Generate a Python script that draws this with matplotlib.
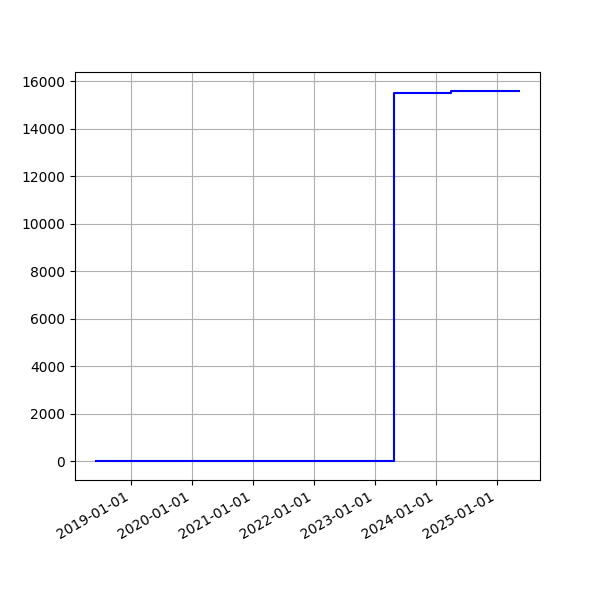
import matplotlib
matplotlib.use("Agg")
import matplotlib.pyplot as plt
import matplotlib.dates as mdates
import pandas as pd

# step data
dates = pd.to_datetime(["2018-06-06", "2023-04-25", "2024-03-31", "2025-05-12"])
values = [0, 15480, 15600, 15600]

fig, ax = plt.subplots(figsize=(6, 6), dpi=100)
ax.step(dates, values, where="post", color="blue")
ax.xaxis.set_major_locator(mdates.YearLocator())
ax.xaxis.set_major_formatter(mdates.DateFormatter("%Y-%m-%d"))
ax.grid(True)
fig.autofmt_xdate()

plt.savefig("out.png", dpi=100)
